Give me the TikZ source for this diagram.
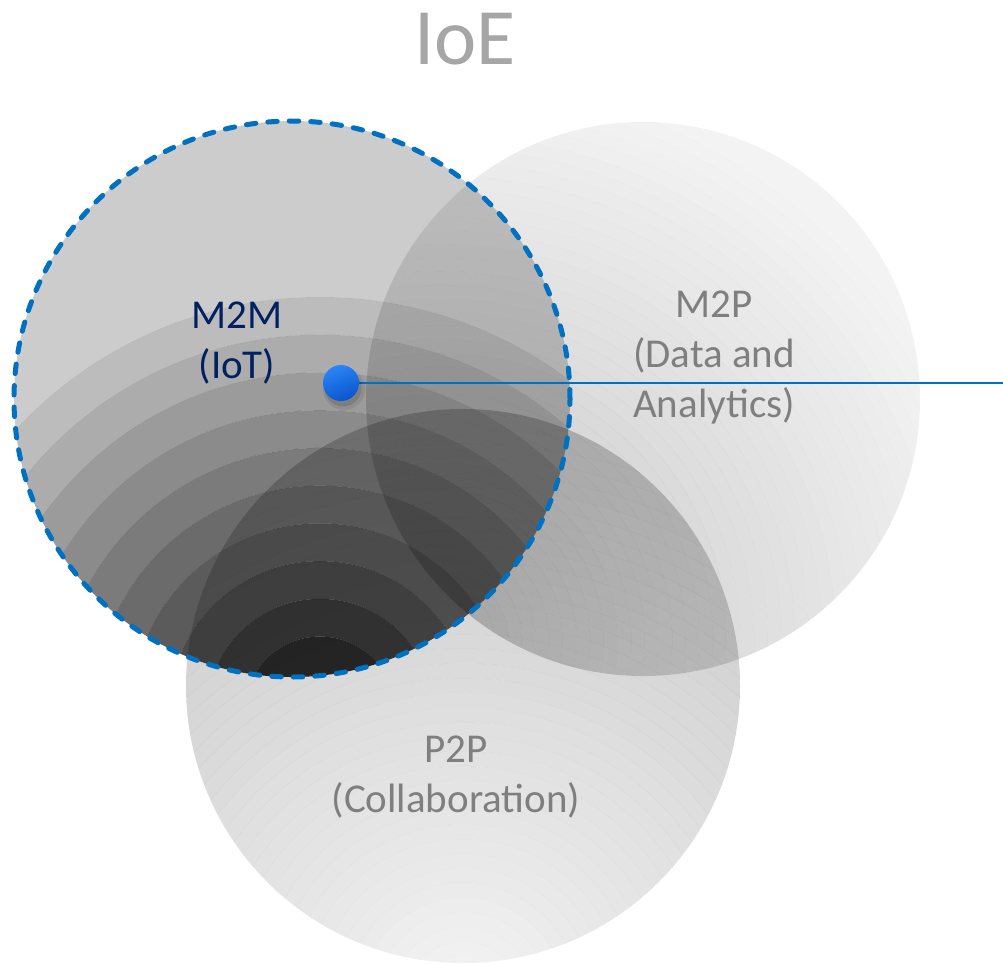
\documentclass[tikz,border=0pt]{standalone}
\usepackage{fontspec}
\setmainfont{Carlito}
\usetikzlibrary{calc}
\definecolor{dashblue}{HTML}{0070C0}
\definecolor{navy}{HTML}{002060}
\definecolor{lbl}{HTML}{7F7F7F}
\definecolor{ttl}{HTML}{A6A6A6}
\definecolor{dottop}{HTML}{2A85F7}
\definecolor{dotbot}{HTML}{0A55CC}
% #1 circle centre, #2 circle radius, #3 band centre, #4 outer band radius,
% #5 number of rings, #6 grey outside, #7 grey at band centre
\newcommand\vennbands[7]{%
  \begin{scope}
    \clip (#1) circle[radius=#2];
    \pgfmathsetmacro\vbop{1-#6/255}
    \fill[black, fill opacity=\vbop, even odd rule] (#1) circle[radius=#2+3] (#3) circle[radius=#4];
    \pgfmathtruncatemacro\vblast{#5-1}
    \foreach \k in {0,...,\vblast} {
      \pgfmathsetmacro\vbra{#4*(1-\k/(#5+1))}
      \pgfmathsetmacro\vbrb{#4*(1-(\k+1)/(#5+1))}
      \pgfmathsetmacro\vbo{1-(#6+(#7-#6)*(\k+1)/(#5+1))/255}
      \fill[black, fill opacity=\vbo, even odd rule] (#3) circle[radius=\vbra] (#3) circle[radius=\vbrb];
    }
    \pgfmathsetmacro\vbrb{#4/(#5+1)}
    \pgfmathsetmacro\vbo{1-#7/255}
    \fill[black, fill opacity=\vbo] (#3) circle[radius=\vbrb];
  \end{scope}}
\tikzset{
  ring/.style={circle, inner sep=0pt, outer sep=0pt, minimum size=#1},
  dashring/.style={ring=556pt, draw=dashblue, line width=5pt, line cap=round, dash pattern=on 9.5pt off 12pt},
  bigtext/.style={font=\fontsize{41}{50}\selectfont, align=center, anchor=base, inner sep=0pt},
}
\begin{document}
\begin{tikzpicture}[x=1pt, y=-1pt]
\useasboundingbox (0,0) rectangle (1003,964);
% centres
\coordinate (cM) at (292,399);
\coordinate (cP) at (643,399);
\coordinate (cQ) at (463,686);
\coordinate (bM) at (320,712);
\coordinate (bP) at (440,640);
\coordinate (bQ) at (463,1000);
% shaded circles
\vennbands{cQ}{277}{bQ}{600}{40}{199}{243}
\vennbands{cP}{277}{bP}{560}{40}{243}{197}
\vennbands{cM}{278}{bM}{415}{10}{204}{26}
% named circle outlines
\node[ring=554pt] (p2p) at (cQ) {};
\node[ring=554pt] (m2p) at (cP) {};
\node[dashring] (m2m) at (cM) {};
% connector from the dot to the right edge
\coordinate (dotc) at (341,383);
\coordinate (lend) at (1003,383);
\draw[dashblue, line width=2pt] (dotc) -- (lend);
\fill[black, opacity=0.08] ($(dotc)+(3,6)$) circle[radius=21];
\fill[black, opacity=0.12] ($(dotc)+(2,5)$) circle[radius=18.5];
\node[circle, inner sep=0pt, minimum size=36pt, top color=dottop, bottom color=dotbot, shading angle=20] (dot) at (dotc) {};
% texts (base anchor = baseline of the last line)
\node[font=\fontsize{80}{96}\selectfont, text=ttl, anchor=base, inner sep=0pt] (ioe) at (465,64) {IoE};
\node[bigtext, text=navy] (tm2m) at (237,378) {M2M\\(IoT)};
\node[bigtext, text=lbl] (tm2p) at (714,417) {M2P\\(Data and\\Analytics)};
\node[bigtext, text=lbl] (tp2p) at (456,812) {P2P\\(Collaboration)};
\end{tikzpicture}
\end{document}
